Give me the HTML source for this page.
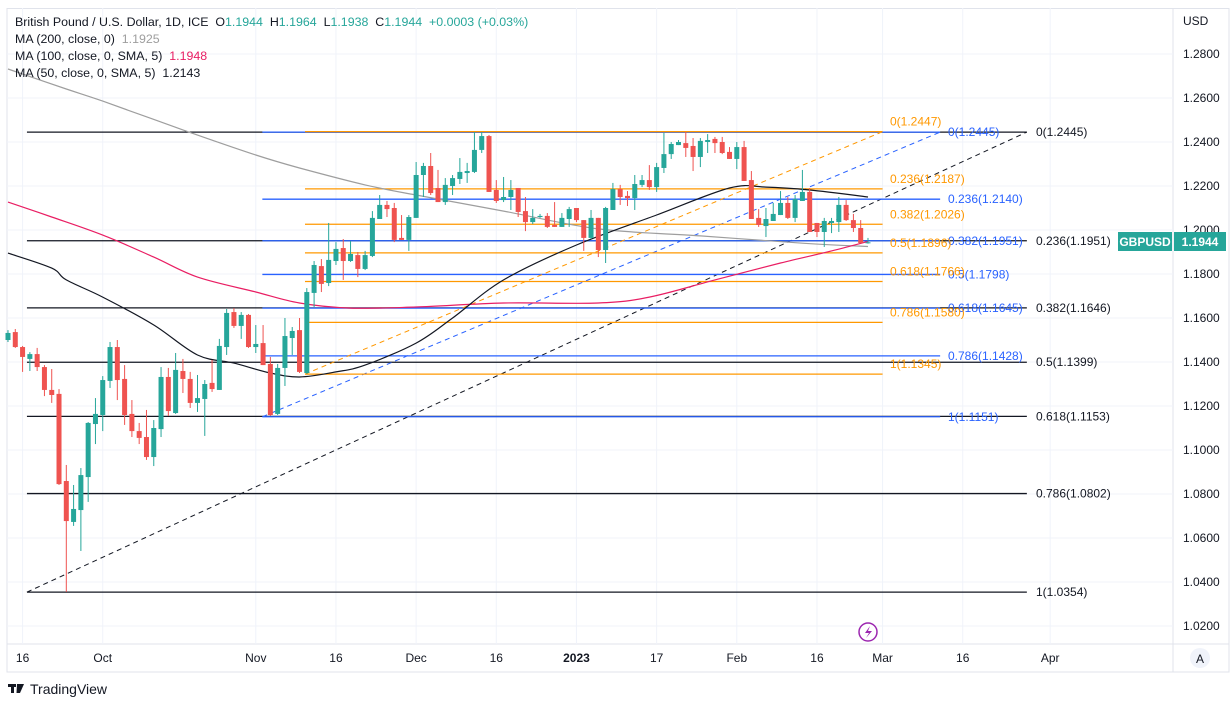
<!DOCTYPE html>
<html><head><meta charset="utf-8">
<style>
html,body{margin:0;padding:0;background:#fff;width:1230px;height:704px;overflow:hidden;font-family:"Liberation Sans",sans-serif;}
svg text{font-family:"Liberation Sans",sans-serif;}
</style></head>
<body>
<svg id="chart" width="1230" height="704" viewBox="0 0 1230 704" xmlns="http://www.w3.org/2000/svg">
  <rect x="0" y="0" width="1230" height="704" fill="#fff"/>
  <rect x="7" y="8.5" width="1222" height="663.5" fill="none" stroke="#e0e3eb" stroke-width="1"/>
  <line x1="7" y1="644" x2="1229" y2="644" stroke="#e0e3eb" stroke-width="1"/>
  <line x1="1173" y1="8" x2="1173" y2="672" stroke="#e0e3eb" stroke-width="1"/>
  <g id="grid"></g>
  <g id="fibs"></g>
  <g id="mas"></g>
  <g id="candles"></g>
  <g id="fiblabels"></g>
  <g id="yaxis"></g>
  <g id="xaxis"></g>
  <text x="1183" y="25" font-size="12" fill="#131722">USD</text>
  <g font-size="12.4" fill="#131722">
    <text x="15" y="26">British Pound / U.S. Dollar, 1D, ICE&#160;&#160;O<tspan fill="#26a69a">1.1944</tspan>&#160;&#160;H<tspan fill="#26a69a">1.1964</tspan>&#160;&#160;L<tspan fill="#26a69a">1.1938</tspan>&#160;&#160;C<tspan fill="#26a69a">1.1944</tspan>&#160;&#160;<tspan fill="#26a69a">+0.0003 (+0.03%)</tspan></text>
    <text x="15" y="43">MA (200, close, 0)&#160;&#160;<tspan fill="#9e9e9e">1.1925</tspan></text>
    <text x="15" y="60">MA (100, close, 0, SMA, 5)&#160;&#160;<tspan fill="#e91e63">1.1948</tspan></text>
    <text x="15" y="77">MA (50, close, 0, SMA, 5)&#160;&#160;1.2143</text>
  </g>
  <g>
    <rect x="1118" y="232" width="54" height="19" fill="#26a69a"/>
    <text x="1145" y="246" font-size="12" fill="#fff" text-anchor="middle" font-weight="bold">GBPUSD</text>
    <rect x="1174" y="232" width="52" height="19" fill="#26a69a"/>
    <text x="1200" y="246" font-size="12" fill="#fff" text-anchor="middle" font-weight="bold">1.1944</text>
  </g>
  <g>
    <circle cx="868" cy="632" r="9" fill="#fff" stroke="#9c27b0" stroke-width="1.5"/>
    <path d="M870 626 L865 633 L869 633 L866 638 L872 631 L868 631 Z" fill="#9c27b0"/>
  </g>
  <g>
    <circle cx="1200" cy="658" r="10" fill="#f0f3fa"/>
    <text x="1200" y="663" font-size="12" fill="#131722" text-anchor="middle">A</text>
  </g>
  <g>
    <rect x="8" y="684" width="8" height="3" fill="#131722"/>
    <rect x="11" y="684" width="3" height="9" fill="#131722"/>
    <path d="M17 684 L24 684 L20 693 L16.5 693 Z" fill="#131722"/>
    <text x="30" y="694" font-size="14" fill="#131722">TradingView</text>
  </g>
</svg>
<script>
// ---- data ----
const opens = [1.1500,1.1536,1.1468,1.1414,1.1436,1.1377,1.1273,1.1255,1.0859,1.0673,1.0727,1.0877,1.1118,1.1159,1.1314,1.1468,1.1323,1.1164,1.1086,1.1059,1.0968,1.1095,1.1332,1.1168,1.1359,1.1323,1.1214,1.1232,1.1305,1.1273,1.1468,1.1627,1.1564,1.1614,1.1468,1.1486,1.1391,1.1164,1.1373,1.1509,1.1545,1.1350,1.1714,1.1836,1.1759,1.1859,1.1918,1.1859,1.1886,1.1823,1.1882,1.2050,1.2114,1.2100,1.1964,1.1955,1.2055,1.2250,1.2291,1.2191,1.2127,1.2200,1.2232,1.2259,1.2264,1.2364,1.2427,1.2182,1.2136,1.2150,1.2191,1.2086,1.2036,1.2059,1.2064,1.2023,1.2014,1.2050,1.2100,1.2045,1.1964,1.2055,1.1909,1.2091,1.2186,1.2155,1.2145,1.2205,1.2227,1.2195,1.2282,1.2345,1.2386,1.2395,1.2382,1.2332,1.2400,1.2414,1.2400,1.2355,1.2323,1.2377,1.2227,1.2055,1.2018,1.2041,1.2068,1.2123,1.2055,1.2132,1.2173,1.2032,1.1991,1.2032,1.2036,1.2114,1.2045,1.2009,1.1944];
const highs = [1.1545,1.1550,1.1473,1.1445,1.1464,1.1386,1.1368,1.1277,1.0932,1.0841,1.0918,1.1127,1.1236,1.1336,1.1491,1.1500,1.1386,1.1227,1.1123,1.1182,1.1136,1.1377,1.1373,1.1441,1.1414,1.1355,1.1341,1.1318,1.1409,1.1505,1.1641,1.1645,1.1627,1.1618,1.1568,1.1568,1.1423,1.1391,1.1600,1.1559,1.1600,1.1736,1.1859,1.1868,1.2032,1.1945,1.1959,1.1950,1.1900,1.1905,1.2086,1.2159,1.2132,1.2123,1.2068,1.2068,1.2309,1.2305,1.2350,1.2273,1.2236,1.2250,1.2327,1.2305,1.2445,1.2445,1.2432,1.2227,1.2241,1.2227,1.2191,1.2150,1.2095,1.2073,1.2077,1.2127,1.2077,1.2105,1.2100,1.2045,1.2091,1.2055,1.2105,1.2214,1.2205,1.2177,1.2250,1.2250,1.2295,1.2305,1.2441,1.2400,1.2409,1.2445,1.2418,1.2418,1.2436,1.2423,1.2423,1.2377,1.2400,1.2405,1.2268,1.2095,1.2100,1.2123,1.2177,1.2150,1.2159,1.2273,1.2191,1.2032,1.2055,1.2055,1.2150,1.2136,1.2073,1.2045,1.1964];
const lows = [1.1491,1.1464,1.1355,1.1359,1.1359,1.1245,1.1214,1.0841,1.0355,1.0655,1.0541,1.0764,1.1027,1.1086,1.1282,1.1227,1.1114,1.1059,1.1027,1.0955,1.0927,1.1059,1.1155,1.1164,1.1259,1.1191,1.1173,1.1064,1.1264,1.1273,1.1432,1.1555,1.1505,1.1464,1.1441,1.1386,1.1155,1.1159,1.1291,1.1432,1.1350,1.1345,1.1650,1.1718,1.1745,1.1841,1.1773,1.1855,1.1786,1.1818,1.1877,1.2050,1.2059,1.1945,1.1955,1.1905,1.2055,1.2150,1.2159,1.2127,1.2114,1.2159,1.2209,1.2214,1.2259,1.2350,1.2173,1.2123,1.2127,1.2091,1.2059,1.1995,1.2027,1.2055,1.2009,1.2014,1.2014,1.2014,1.2036,1.1905,1.1959,1.1877,1.1850,1.2091,1.2114,1.2109,1.2091,1.2195,1.2182,1.2173,1.2259,1.2323,1.2386,1.2332,1.2268,1.2286,1.2350,1.2350,1.2345,1.2323,1.2277,1.2223,1.2050,1.2014,1.1968,1.2041,1.2068,1.2050,1.2036,1.2132,1.1991,1.1968,1.1923,1.1986,1.1991,1.2041,1.1991,1.1941,1.1938];
const closes = [1.1532,1.1468,1.1423,1.1436,1.1377,1.1273,1.1250,1.0845,1.0677,1.0732,1.0886,1.1123,1.1164,1.1318,1.1468,1.1318,1.1159,1.1086,1.1055,1.0968,1.1100,1.1332,1.1177,1.1364,1.1323,1.1214,1.1236,1.1300,1.1277,1.1473,1.1623,1.1564,1.1614,1.1468,1.1482,1.1386,1.1159,1.1373,1.1518,1.1541,1.1355,1.1718,1.1841,1.1755,1.1864,1.1914,1.1859,1.1891,1.1823,1.1886,1.2055,1.2114,1.2095,1.1955,1.1955,1.2059,1.2250,1.2291,1.2168,1.2127,1.2205,1.2236,1.2264,1.2268,1.2364,1.2427,1.2173,1.2132,1.2150,1.2182,1.2082,1.2036,1.2055,1.2064,1.2014,1.2014,1.2055,1.2095,1.2045,1.1964,1.2055,1.1909,1.2100,1.2186,1.2150,1.2145,1.2209,1.2227,1.2195,1.2286,1.2345,1.2391,1.2400,1.2373,1.2332,1.2405,1.2409,1.2395,1.2350,1.2323,1.2377,1.2223,1.2050,1.2023,1.2050,1.2073,1.2123,1.2055,1.2141,1.2173,1.1991,1.1991,1.2041,1.2041,1.2114,1.2045,1.2009,1.1941,1.1944];

const ma200Idx = [0,8,13,24,34,40,49,56,68,81,95,109,118];
const ma200Val = [1.2732,1.2641,1.2586,1.2455,1.2341,1.2282,1.2205,1.2159,1.2086,1.2005,1.1973,1.1940,1.1925];
const ma100Idx = [0,6,13,20,26,34,40,47,56,68,81,88,97,106,113,118];
const ma100Val = [1.2127,1.2059,1.1977,1.1877,1.1786,1.1718,1.1668,1.1645,1.1650,1.1668,1.1668,1.1695,1.1773,1.1850,1.1905,1.1948];
const ma50Idx = [0,6,8,13,20,26,31,36,40,45,49,56,61,68,78,89,99,104,110,118];
const ma50Val = [1.1895,1.1827,1.1773,1.1695,1.1568,1.1432,1.1395,1.1350,1.1332,1.1355,1.1386,1.1486,1.1600,1.1773,1.1932,1.2068,1.2191,1.2195,1.2182,1.2150];

const fibRatios = [0,0.236,0.382,0.5,0.618,0.786,1];
const blackFibPrices = [1.2445,1.1951,1.1646,1.1399,1.1153,1.0802,1.0354];
const blueFibPrices = [1.2445,1.2140,1.1951,1.1798,1.1645,1.1428,1.1151];
const orangeFibPrices = [1.2447,1.2187,1.2026,1.1896,1.1766,1.1580,1.1345];
const blackFibRange = [2.6,139.8];
const blueFibRange = [34.9,127.9];
const orangeFibRange = [40.75,120.0];

const priceTicks = [1.28,1.26,1.24,1.22,1.20,1.18,1.16,1.14,1.12,1.10,1.08,1.06,1.04,1.02];
const timeTickIdx = [2,13,34,45,56,67,78,89,100,111,120,131,143];
const timeTickLabels = ["16","Oct","Nov","16","Dec","16","2023","17","Feb","16","Mar","16","Apr"];

// ---- scales ----
const NS = "http://www.w3.org/2000/svg";
function xOf(i){ return 8 + i*7.288; }
function yOf(p){ return 54 + (1.28 - p)*2200; }
function mk(tag, attrs, parent){
  const e = document.createElementNS(NS, tag);
  for (const k in attrs) e.setAttribute(k, attrs[k]);
  parent.appendChild(e);
  return e;
}

const grid = document.getElementById('grid');
const yaxis = document.getElementById('yaxis');
const xaxis = document.getElementById('xaxis');
priceTicks.forEach(p => {
  const y = yOf(p);
  const gl = mk('line', {x1:7, x2:1173, y1:y, y2:y, stroke:'#f0f3fa', 'stroke-width':1}, grid);
  
  
  const t = mk('text', {x:1183, y:y+4, 'font-size':12, fill:'#131722'}, yaxis);
  t.textContent = p.toFixed(4);
  
  
});
timeTickIdx.forEach((ix, k) => {
  const x = xOf(ix);
  const gl = mk('line', {x1:x, x2:x, y1:8, y2:644, stroke:'#f0f3fa', 'stroke-width':1}, grid);
  
  
  const lab = timeTickLabels[k];
  const t = mk('text', {x:x, y:662, 'font-size':12, fill:'#131722', 'text-anchor':'middle'}, xaxis);
  if (lab === "2023") t.setAttribute('font-weight', 'bold');
  t.textContent = lab;
  
  
});

const fibs = document.getElementById('fibs');
const fibLabels = document.getElementById('fiblabels');
function drawFib(prices, range, color, labelX, labelDy, name){
  const x1 = xOf(range[0]), x2 = xOf(range[1]);
  prices.forEach((p, k) => {
    const y = yOf(p);
    const l = mk('line', {x1:x1, x2:x2, y1:y, y2:y, stroke:color, 'stroke-width':1.3}, fibs);
    
    
    const t = mk('text', {x:labelX, y:y+4+labelDy, 'font-size':12, fill:color}, fibLabels);
    t.textContent = fibRatios[k] + '(' + p.toFixed(4) + ')';
    
    
  });
  const d = mk('line', {x1:x1, y1:yOf(prices[prices.length-1]), x2:x2, y2:yOf(prices[0]), stroke:color, 'stroke-width':1, 'stroke-dasharray':'5,4'}, fibs);
  
  
}
drawFib(blackFibPrices, blackFibRange, '#131722', 1036, 0, 'black-fib');
drawFib(blueFibPrices, blueFibRange, '#2962ff', 948, 0, 'blue-fib');
drawFib(orangeFibPrices, orangeFibRange, '#ff9800', 890, -10, 'orange-fib');

// moving averages as smooth curves (Catmull-Rom)
const mas = document.getElementById('mas');
function drawMA(idx, vals, color, name){
  const P = idx.map((ix, k) => [xOf(ix), yOf(vals[k])]);
  let d = 'M' + P[0][0].toFixed(1) + ',' + P[0][1].toFixed(1);
  for (let i = 0; i < P.length - 1; i++) {
    const p0 = P[Math.max(0, i-1)], p1 = P[i], p2 = P[i+1], p3 = P[Math.min(P.length-1, i+2)];
    const c1x = p1[0] + (p2[0]-p0[0])/6, c1y = p1[1] + (p2[1]-p0[1])/6;
    const c2x = p2[0] - (p3[0]-p1[0])/6, c2y = p2[1] - (p3[1]-p1[1])/6;
    d += ' C' + c1x.toFixed(1) + ',' + c1y.toFixed(1) + ' ' + c2x.toFixed(1) + ',' + c2y.toFixed(1) + ' ' + p2[0].toFixed(1) + ',' + p2[1].toFixed(1);
  }
  const pl = mk('path', {d:d, fill:'none', stroke:color, 'stroke-width':1.2}, mas);
  
  
}
drawMA(ma200Idx, ma200Val, '#9e9e9e', 'ma200-line');
drawMA(ma100Idx, ma100Val, '#e91e63', 'ma100-line');
drawMA(ma50Idx, ma50Val, '#131722', 'ma50-line');

const cg = document.getElementById('candles');
opens.forEach((o, i) => {
  const c = closes[i], h = highs[i], l = lows[i];
  const up = c >= o;
  const col = up ? '#26a69a' : '#ef5350';
  const x = xOf(i);
  const g = mk('g', {}, cg);
  
  
  mk('line', {x1:x, x2:x, y1:yOf(h), y2:yOf(l), stroke:col, 'stroke-width':1}, g);
  const top = yOf(Math.max(o, c)), bot = yOf(Math.min(o, c));
  mk('rect', {x:x-2.5, y:top, width:5, height:Math.max(1, bot-top), fill:col}, g);
});
</script>
</body></html>
